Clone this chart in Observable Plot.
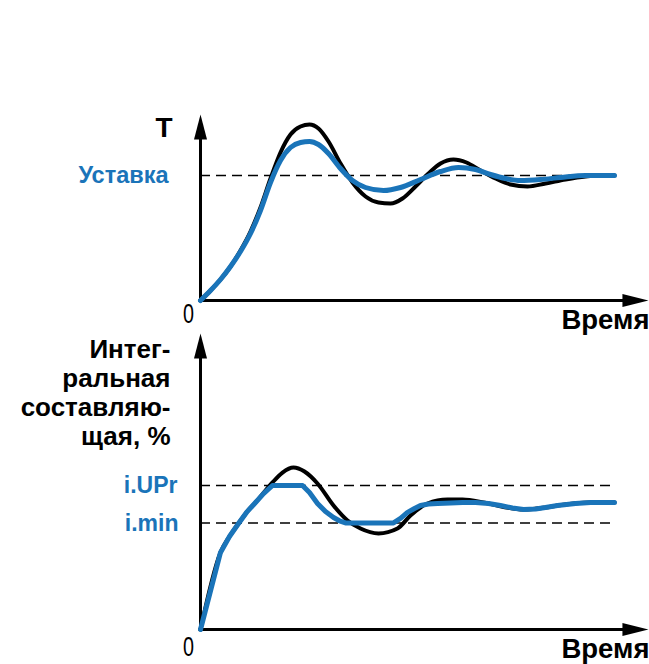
<!DOCTYPE html>
<html><head><meta charset="utf-8">
<script src="https://cdn.jsdelivr.net/npm/d3@7"></script>
<script src="https://cdn.jsdelivr.net/npm/@observablehq/plot@0.6"></script>
<style>
body{margin:0;background:#fff;}
#wrap{position:relative;width:649px;height:664px;overflow:hidden;background:#fff;}
#wrap svg{position:absolute;left:0;}
</style></head><body><div id="wrap"></div>
<script>
// ---- top panel: temperature (% of setpoint) vs time ----
const tTopBlack = [0,2.42,4.83,7.25,9.66,12.08,14.49,16.91,19.32,21.74,24.15,26.33,28.5,30.92,33.82,36.71,39.86,43.0,45.89,48.79,51.93,55.07,57.97,61.11,64.25,67.63,71.26,74.88,78.99,83.33,88.16,93.0,96.62,100];
const vTopBlack = [0,8,16.8,27.2,40,55.2,74.4,97.6,118.4,132.8,139.2,140.8,137.6,127.2,109.6,94.4,83.2,78.4,77.6,81.6,91.2,101.6,109.6,112.8,110.4,104,97.6,92.8,91.2,93.6,96.8,99.2,100,100];
const tTopBlue = [0,2.42,4.83,7.25,9.66,12.08,14.49,16.91,19.32,21.74,24.15,26.33,28.5,30.92,33.82,36.71,39.86,44.2,48.31,53.14,57.97,62.32,66.43,70.05,73.67,77.29,82.13,86.96,93.0,100];
const vTopBlue = [0,8,16.8,27.2,39.2,53.6,72,94.4,112,122.4,126.4,127.2,124.8,117.6,105.6,96,90.4,88,90.4,96.8,103.2,106.4,104.8,100.8,97.6,96,96.8,98.4,100,100];
const setpoint = 100;

// ---- bottom panel: integral component (%) vs time ----
const tBotBlack = [0,4.83,7.0,9.18,11.11,13.29,15.7,17.39,19.81,22.46,25.12,28.26,32.13,35.51,38.65,43.0,47.58,50.72,54.83,59.66,63.29,68.36,73.19,78.02,83.33,86.23,94.2,100];
const vBotBlack = [0,53.5,64.6,73.6,81.3,88.2,96.5,102.1,109.0,112.5,109.7,101.4,86.1,75.7,70.1,66.7,70.1,79.2,87.5,90.3,90.3,88.2,85.1,83.3,84.7,86.1,88.2,88.2];
const tBotBlue = [0,4.83,7.0,9.18,11.11,13.29,15.22,17.39,24.64,26.33,28.26,30.19,32.13,33.57,35.02,46.62,48.31,50.0,51.69,53.14,55.07,57.25,60.39,63.29,66.43,69.57,72.46,75.36,78.02,80.92,83.33,86.23,90.58,94.2,100];
const vBotBlue = [0,53.5,64.6,73.6,81.3,88.2,94.4,100,100,95.1,87.5,81.9,77.8,75.5,74,74,77.1,81.3,84,86.1,87.2,87.5,87.8,88.2,88.2,87.5,86.1,84.4,83.3,83.7,84.7,86.1,87.5,88.2,88.2];
const iUPr = 100, iMin = 74;

// axis extents (data units)
const xEnd = 108.2;
const yTopEnd = 148.8;
const yBotEnd = 205.6;

const topLabels = ["T", "Уставка", "0", "Время"];
const botLabels = ["Интег-\nральная\nсоставляю-\nщая, %", "i.UPr", "i.min", "0", "Время"];

const BLUE = "#1a74b9";
const FONT = "'Liberation Sans',Arial,sans-serif";

const zip = (t, v) => t.map((d, i) => ({t: d, v: v[i]}));

const arrowUp = {draw(ctx){ ctx.moveTo(0,0); ctx.lineTo(6.5,25); ctx.lineTo(-6.5,25); ctx.closePath(); }};
const arrowRight = {draw(ctx){ ctx.moveTo(0,0); ctx.lineTo(-26,-6.5); ctx.lineTo(-26,6.5); ctx.closePath(); }};

function axesMarks(yEnd) {
  return [
    Plot.ruleX([0], {y1: 0, y2: yEnd - 10, stroke: "#000", strokeWidth: 3, strokeLinecap: "square"}),
    Plot.ruleY([0], {x1: 0, x2: xEnd - 3, stroke: "#000", strokeWidth: 3, strokeLinecap: "square"}),
    Plot.dot([{t: 0, v: yEnd}], {x: "t", y: "v", symbol: arrowUp, fill: "#000", stroke: null, r: 5}),
    Plot.dot([{t: xEnd, v: 0}], {x: "t", y: "v", symbol: arrowRight, fill: "#000", stroke: null, r: 5})
  ];
}

const txt = (label, t, v, o) => Plot.text([{t, v, label}], {x: "t", y: "v", text: "label", fontFamily: FONT, fontWeight: "bold", fill: "#000", lineAnchor: "bottom", ...o});

const topChart = Plot.plot({
  width: 649, height: 345, margin: 0,
  style: {background: "transparent", overflow: "visible", fontFamily: FONT},
  x: {domain: [0, 100], range: [200, 614], axis: null},
  y: {domain: [0, 100], range: [300, 175], axis: null},
  marks: [
    Plot.ruleY([setpoint], {x1: 0, x2: 100, stroke: "#000", strokeWidth: 1.6, strokeDasharray: "10,6"}),
    ...axesMarks(yTopEnd),
    Plot.line(zip(tTopBlack, vTopBlack), {x: "t", y: "v", stroke: "#000", strokeWidth: 4, curve: "monotone-x"}),
    Plot.line(zip(tTopBlue, vTopBlue), {x: "t", y: "v", stroke: BLUE, strokeWidth: 5, curve: "monotone-x"}),
    txt(topLabels[0], 0, yTopEnd, {textAnchor: "end", dx: -28, dy: 22, fontSize: 28}),
    txt(topLabels[1], 0, setpoint, {textAnchor: "end", dx: -32, dy: 7, fontSize: 23.5, fill: BLUE}),
    txt(topLabels[2], 0, 0, {textAnchor: "middle", dx: -12, dy: 22, fontSize: 27, fontWeight: "normal"}),
    txt(topLabels[3], xEnd, 0, {textAnchor: "end", dx: 1, dy: 28, fontSize: 27.5})
  ]
});
topChart.style.top = "0px";

const botChart = Plot.plot({
  width: 649, height: 344, margin: 0,
  style: {background: "transparent", overflow: "visible", fontFamily: FONT},
  x: {domain: [0, 100], range: [200, 614], axis: null},
  y: {domain: [0, 100], range: [309, 165], axis: null},
  marks: [
    Plot.ruleY([iUPr, iMin], {x1: 0, x2: 100, stroke: "#000", strokeWidth: 1.6, strokeDasharray: "10,6"}),
    ...axesMarks(yBotEnd),
    Plot.line(zip(tBotBlack, vBotBlack), {x: "t", y: "v", stroke: "#000", strokeWidth: 4, curve: "monotone-x"}),
    Plot.line(zip(tBotBlue, vBotBlue), {x: "t", y: "v", stroke: BLUE, strokeWidth: 5, curve: "linear", strokeLinejoin: "round"}),
    txt(botLabels[0], 0, yBotEnd, {textAnchor: "end", dx: -30, dy: 4, fontSize: 26, lineAnchor: "top", lineHeight: 1.12}),
    txt(botLabels[1], 0, iUPr, {textAnchor: "end", dx: -23, dy: 7, fontSize: 23, fill: BLUE}),
    txt(botLabels[2], 0, iMin, {textAnchor: "end", dx: -22, dy: 8, fontSize: 23, fill: BLUE}),
    txt(botLabels[3], 0, 0, {textAnchor: "middle", dx: -12, dy: 26, fontSize: 27, fontWeight: "normal"}),
    txt(botLabels[4], xEnd, 0, {textAnchor: "end", dx: 1, dy: 28, fontSize: 27.5})
  ]
});
botChart.style.top = "320px";

const wrap = document.getElementById("wrap");
wrap.appendChild(topChart);
wrap.appendChild(botChart);

// narrow the "0" origin labels like the condensed face of the reference
d3.selectAll("#wrap text").filter(function() { return this.textContent === "0"; })
  .attr("textLength", 11).attr("lengthAdjust", "spacingAndGlyphs");
</script>
</body></html>
